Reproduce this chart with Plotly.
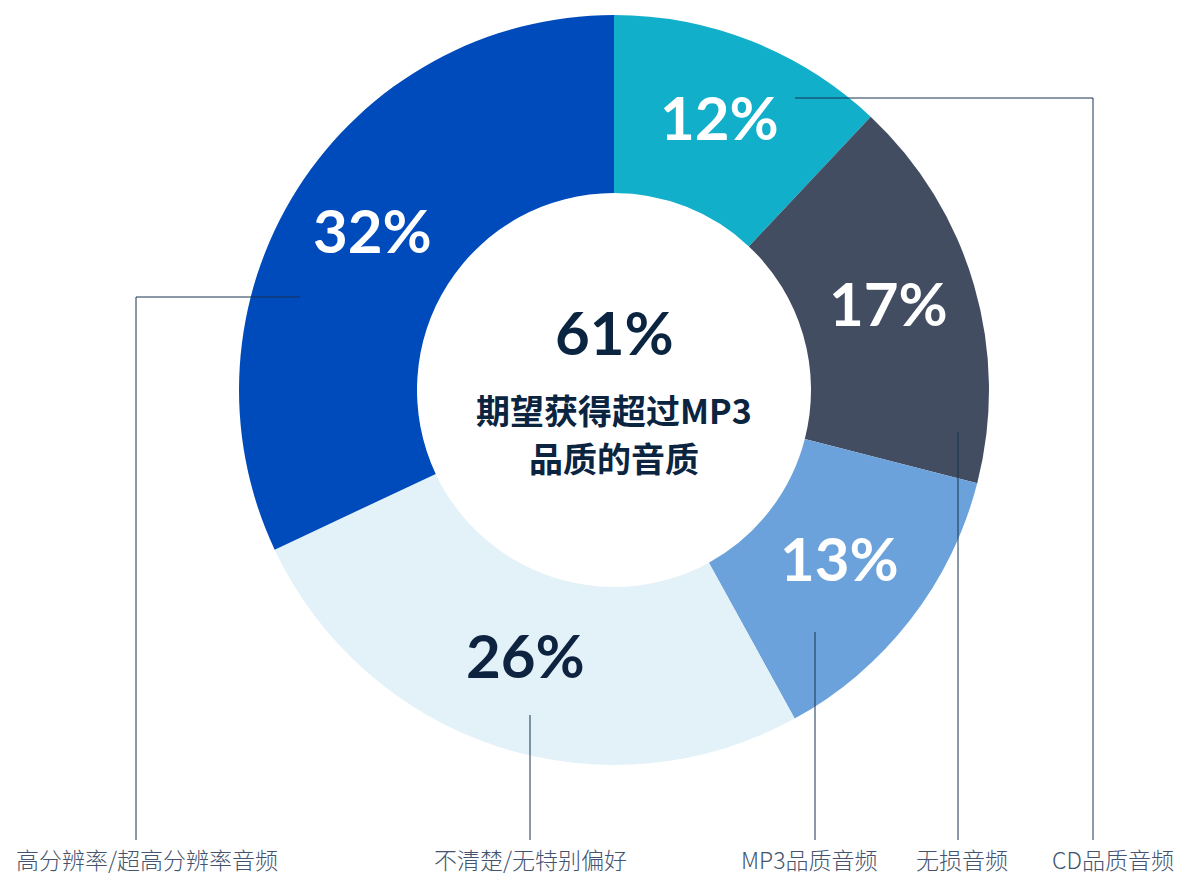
import math

import plotly.graph_objects as go

W, H = 1180, 877

categories = ["CD品质音频", "无损音频", "MP3品质音频", "不清楚/无特别偏好", "高分辨率/超高分辨率音频"]
values = [12, 17, 13, 26, 32]
colors = ["#12AFCB", "#424D62", "#6CA2DB", "#E3F2F8", "#004BBB"]
text_colors = ["#FFFFFF", "#FFFFFF", "#FFFFFF", "#0E2340", "#FFFFFF"]

center_value = "61%"
center_text = ["期望获得超过MP3", "品质的音质"]

# leader lines (pixel paths) and bottom label x-centres
leaders = [
    [(795, 98), (1093, 98), (1093, 840)],
    [(958, 432), (958, 840)],
    [(815, 632), (815, 840)],
    [(530, 715), (530, 840)],
    [(300, 297), (136, 297), (136, 840)],
]
label_x = [1113, 962, 809, 530, 147]

CX, CY, R_OUT, R_IN = 614, 390, 375, 197


def px(x, y):
    return x / W, 1 - y / H


fig = go.Figure(
    go.Pie(
        labels=categories,
        values=values,
        hole=R_IN / R_OUT,
        sort=False,
        direction="clockwise",
        rotation=0,
        marker=dict(colors=colors, line=dict(width=0)),
        textinfo="none",
        hoverinfo="label+percent",
        domain=dict(x=[(CX - R_OUT) / W, (CX + R_OUT) / W],
                    y=[1 - (CY + R_OUT) / H, 1 - (CY - R_OUT) / H]),
        showlegend=False,
    )
)

annotations = []
total = sum(values)
start = 90.0
r_mid = (R_IN + R_OUT) / 2
for v, tc in zip(values, text_colors):
    sweep = 360 * v / total
    mid = math.radians(start - sweep / 2)
    start -= sweep
    x, y = px(CX + r_mid * math.cos(mid), CY - r_mid * math.sin(mid))
    annotations.append(dict(
        x=x, y=y, xref="paper", yref="paper", text=f"{v}%", showarrow=False,
        xanchor="center", yanchor="middle", yshift=7,
        font=dict(family="Lato, Inter, Noto Sans CJK SC", size=60, color=tc, weight=700),
    ))

for name, lx in zip(categories, label_x):
    x, y = px(lx, 859)
    annotations.append(dict(
        x=x, y=y, xref="paper", yref="paper", text=name, showarrow=False,
        xanchor="center", yanchor="middle",
        font=dict(family="Noto Sans CJK SC", size=23, color="#44546E", weight=300),
    ))

x, y = px(CX, 335)
annotations.append(dict(
    x=x, y=y, xref="paper", yref="paper", text=center_value, showarrow=False,
    xanchor="center", yanchor="middle", yshift=3,
    font=dict(family="Lato, Inter, Noto Sans CJK SC", size=60, color="#0B2541", weight=700),
))
for i, t in enumerate(center_text):
    x, y = px(CX, 410 + i * 47)
    annotations.append(dict(
        x=x, y=y, xref="paper", yref="paper", text=t, showarrow=False,
        xanchor="center", yanchor="middle",
        font=dict(family="Noto Sans CJK SC", size=34, color="#0B2541", weight=700),
    ))

shapes = []
for path in leaders:
    for (x0, y0), (x1, y1) in zip(path[:-1], path[1:]):
        a0, b0 = px(x0, y0)
        a1, b1 = px(x1, y1)
        shapes.append(dict(type="line", xref="paper", yref="paper",
                           x0=a0, y0=b0, x1=a1, y1=b1,
                           line=dict(color="#163250", width=1)))

fig.update_layout(
    width=W, height=H,
    margin=dict(l=0, r=0, t=0, b=0),
    paper_bgcolor="white",
    plot_bgcolor="white",
    annotations=annotations,
    shapes=shapes,
)

fig.write_html("out.html", config={"displayModeBar": False},
               post_script="document.body.style.margin='0';")
